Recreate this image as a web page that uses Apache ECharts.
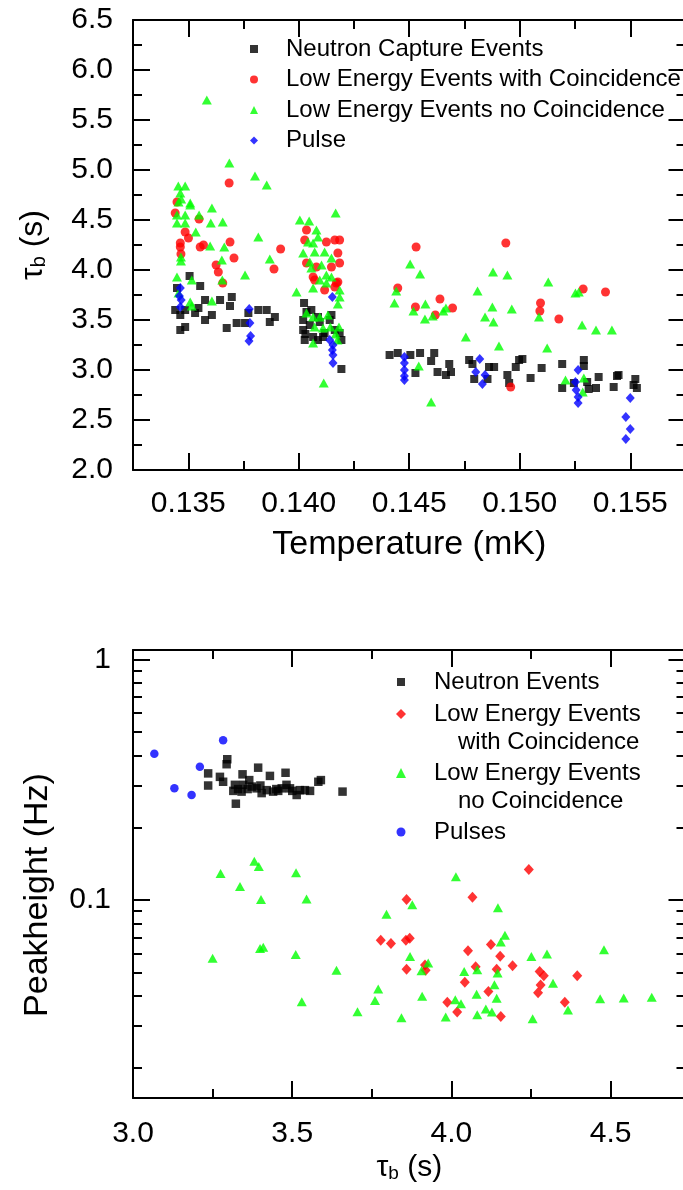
<!DOCTYPE html>
<html>
<head>
<meta charset="utf-8">
<script src="https://cdn.jsdelivr.net/npm/echarts@6/dist/echarts.min.js"></script>
<style>
html,body{margin:0;padding:0;background:#fff;overflow:hidden;}
#chart{width:683px;height:1190px;}
</style>
</head>
<body>
<div id="chart"></div>
<script>
// ---------- Top chart data: [Temperature (mK), tau_b (s)] ----------
const neutronCapture = [
  [0.13506,3.94],[0.13554,3.84],[0.13449,3.82],[0.13576,3.70],[0.13644,3.70],[0.13697,3.73],[0.13689,3.64],
  [0.13441,3.60],[0.13464,3.55],[0.13486,3.60],[0.13531,3.57],[0.13546,3.62],[0.13576,3.50],[0.13607,3.55],
  [0.13464,3.40],[0.13486,3.43],[0.13674,3.42],[0.13719,3.47],[0.13757,3.47],[0.13772,3.57],[0.13817,3.60],
  [0.13855,3.60],[0.13892,3.53],[0.13869,3.48],
  [0.14024,3.67],[0.14035,3.58],[0.14057,3.60],[0.14087,3.53],[0.14148,3.55],[0.14020,3.50],[0.14020,3.40],
  [0.14027,3.30],[0.14065,3.33],[0.14117,3.37],[0.14163,3.40],[0.14185,3.37],[0.14193,3.30],[0.14193,3.01],
  [0.14050,3.45],[0.14095,3.48],[0.14140,3.50],[0.14087,3.30],[0.14030,3.36],[0.14110,3.33],
  [0.14411,3.15],[0.14448,3.17],[0.14505,3.15],[0.14549,3.17],[0.14613,3.17],[0.14599,3.09],[0.14528,2.97],
  [0.14628,2.98],[0.14666,2.95],[0.14681,3.06],[0.14689,2.98],[0.14771,3.10],[0.14786,3.06],[0.14861,3.03],
  [0.14884,3.03],[0.14794,2.91],[0.14854,2.91],[0.14944,2.95],[0.14952,2.87],[0.14982,3.03],[0.14997,3.10],
  [0.15012,3.11],
  [0.15049,2.92],[0.15099,3.02],[0.15192,3.06],[0.15290,3.10],[0.15290,3.04],[0.15192,2.82],[0.15245,2.87],
  [0.15305,2.88],[0.15312,2.81],[0.15345,2.82],[0.15357,2.93],[0.15440,2.94],[0.15447,2.95],[0.15425,2.83],
  [0.15523,2.91],[0.15530,2.82],[0.15515,2.85]
];
const lowEnergyCoinc = [
  [0.13685,4.87],[0.13449,4.68],[0.13441,4.57],[0.13549,4.51],[0.13486,4.38],[0.13501,4.32],[0.13464,4.27],
  [0.13464,4.23],[0.13554,4.23],[0.13569,4.25],[0.13689,4.28],[0.13467,4.16],[0.13707,4.12],[0.13626,4.05],
  [0.13636,3.98],[0.13656,3.87],
  [0.14035,4.40],[0.14027,4.30],[0.14125,4.28],[0.14163,4.30],[0.14185,4.30],[0.13918,4.21],[0.13888,4.01],
  [0.14177,4.17],[0.14185,4.07],[0.14035,4.07],[0.14080,4.03],[0.14148,4.03],[0.14065,3.93],[0.14072,3.90],
  [0.14170,3.87],[0.14177,3.88],[0.14117,3.80],[0.14163,3.83],
  [0.14531,4.23],[0.14937,4.27],[0.14448,3.82],[0.14528,3.63],[0.14639,3.71],[0.14696,3.62],[0.14618,3.55],
  [0.14959,2.83],
  [0.15287,3.81],[0.15388,3.78],[0.15094,3.67],[0.15091,3.59],[0.15177,3.51]
];
const lowEnergyNoCoinc = [
  [0.13584,5.70],[0.13686,5.07],[0.13802,4.94],[0.13855,4.85],[0.13455,4.84],[0.13486,4.84],[0.13464,4.77],
  [0.13468,4.71],[0.13509,4.65],[0.13607,4.62],[0.13456,4.68],[0.13509,4.67],[0.13449,4.55],[0.13486,4.55],
  [0.13549,4.55],[0.13449,4.47],[0.13486,4.47],[0.13602,4.47],[0.13656,4.48],[0.13534,4.38],[0.13817,4.33],
  [0.13599,4.24],[0.13663,4.23],[0.13467,4.13],[0.13467,4.09],[0.13652,4.10],[0.13757,3.95],[0.13654,3.90],
  [0.13449,3.93],[0.13516,3.90],[0.13456,3.77],[0.13509,3.68],[0.13516,3.64],[0.13607,3.69],
  [0.14167,4.57],[0.14005,4.50],[0.14047,4.49],[0.14080,4.40],[0.14087,4.33],[0.14042,4.28],[0.14065,4.27],
  [0.14020,4.17],[0.14072,4.18],[0.14117,4.18],[0.14148,4.12],[0.13869,4.11],[0.14050,4.08],[0.14103,4.05],
  [0.14057,4.02],[0.14125,3.95],[0.14148,3.93],[0.14095,3.90],[0.14125,3.87],[0.14185,3.80],[0.13990,3.78],
  [0.14065,3.82],[0.14185,3.73],[0.14177,3.66],[0.14035,3.57],[0.14065,3.53],[0.14095,3.53],[0.14132,3.55],
  [0.14072,3.43],[0.14110,3.42],[0.14143,3.43],[0.14182,3.43],[0.14167,3.36],[0.14175,3.30],[0.14065,3.27],
  [0.14113,2.87],
  [0.14504,4.06],[0.14549,3.96],[0.14879,3.98],[0.14944,3.95],[0.14441,3.79],[0.14433,3.67],[0.14809,3.79],
  [0.14519,3.59],[0.14573,3.66],[0.14666,3.62],[0.14654,3.59],[0.14606,3.54],[0.14571,3.51],[0.14876,3.63],
  [0.14843,3.53],[0.14881,3.48],[0.14964,3.61],[0.14756,3.33],[0.14906,3.24],[0.14543,3.04],[0.14599,2.68],
  [0.15129,3.88],[0.15252,3.77],[0.15267,3.78],[0.15087,3.53],[0.15282,3.45],[0.15345,3.40],[0.15417,3.40],
  [0.15124,3.22],[0.15207,2.90],[0.15290,2.92],[0.15285,2.78]
];
const pulse = [
  [0.13464,3.82],[0.13460,3.74],[0.13468,3.70],[0.13464,3.63],[0.13776,3.61],[0.13779,3.47],[0.13782,3.34],
  [0.13775,3.29],
  [0.14152,3.73],[0.14140,3.30],[0.14155,3.25],[0.14152,3.20],[0.14155,3.15],[0.14155,3.07],
  [0.14478,3.13],[0.14478,3.07],[0.14478,3.00],[0.14478,2.94],[0.14478,2.90],[0.14819,3.11],[0.14801,2.98],
  [0.14843,2.95],[0.14831,2.86],
  [0.15264,3.00],[0.15252,2.88],[0.15255,2.80],[0.15264,2.73],[0.15264,2.67],[0.15500,2.72],[0.15480,2.53],
  [0.15500,2.41],[0.15480,2.31]
];

// ---------- Bottom chart data: [tau_b (s), Peakheight (Hz)] ----------
const neutronEvents = [
  [3.296,0.386],[3.294,0.368],[3.236,0.337],[3.236,0.300],[3.273,0.326],[3.283,0.311],[3.320,0.302],[3.315,0.285],
  [3.323,0.252],[3.344,0.334],[3.346,0.302],[3.341,0.283],[3.365,0.316],[3.373,0.297],[3.393,0.356],[3.388,0.292],
  [3.404,0.279],[3.420,0.287],[3.430,0.329],[3.440,0.283],[3.456,0.285],[3.467,0.292],[3.482,0.302],[3.479,0.339],
  [3.493,0.292],[3.514,0.274],[3.524,0.287],[3.540,0.287],[3.556,0.285],[3.582,0.311],[3.590,0.316],[3.658,0.283],
  [3.360,0.290],[3.400,0.300],[3.450,0.290],[3.500,0.285],[3.330,0.290]
];
const lowEnergyCoincB = [
  [4.243,0.134],[3.859,0.1007],[4.066,0.1029],[3.778,0.0681],[3.810,0.0660],[3.857,0.0681],[3.869,0.0694],
  [4.052,0.0615],[4.124,0.0653],[4.153,0.0584],[3.859,0.0516],[3.917,0.0537],[3.919,0.0511],[4.076,0.0528],
  [4.142,0.0515],[4.192,0.0533],[4.277,0.0505],[4.290,0.0484],[4.395,0.0484],[4.280,0.0443],[4.272,0.0411],
  [4.042,0.0455],[4.116,0.0416],[3.987,0.0376],[4.018,0.0342],[4.155,0.0328],[4.356,0.0376]
];
const lowEnergyNoCoincB = [
  [3.381,0.145],[3.395,0.138],[3.275,0.129],[3.512,0.130],[3.336,0.114],[3.402,0.1007],[3.545,0.101],
  [3.399,0.0629],[3.409,0.0636],[3.250,0.0573],[3.511,0.0594],[3.639,0.0510],[3.530,0.0377],[3.705,0.0343],
  [3.760,0.0382],[3.770,0.0427],
  [4.014,0.125],[3.877,0.0957],[3.796,0.0873],[4.146,0.0930],[4.168,0.0714],[4.155,0.0670],[4.479,0.0621],
  [3.870,0.0583],[4.251,0.0583],[4.300,0.0596],[3.927,0.0547],[3.906,0.0508],[4.040,0.0505],[4.081,0.0513],
  [4.145,0.0497],[4.319,0.0451],[3.908,0.0398],[4.135,0.0444],[4.079,0.0406],[4.142,0.0390],[4.012,0.0385],
  [4.030,0.0370],[4.467,0.0388],[4.541,0.0391],[4.366,0.0349],[4.108,0.0352],[4.127,0.0342],[3.843,0.0324],
  [3.982,0.0326],[4.081,0.0333],[4.255,0.0321],[4.629,0.0394]
];
const pulses = [
  [3.067,0.407],[3.283,0.463],[3.210,0.359],[3.130,0.292],[3.184,0.274]
];

// ---------- Tick values ----------
const tempMajorTicks = [0.135, 0.140, 0.145, 0.150, 0.155];
const tempMinorTicks = [0.1375, 0.1425, 0.1475, 0.1525];
const tauMajorTicks = [3.0, 3.5, 4.0, 4.5];
const tauMinorTicks = [3.25, 3.75, 4.25];
const peakMajorTicks = [0.1, 1];
const peakMinorTicks = [0.02,0.03,0.04,0.05,0.06,0.07,0.08,0.09,0.2,0.3,0.4,0.5,0.6,0.7,0.8,0.9];

// ---------- Names ----------
const topNames = ['Neutron Capture Events', 'Low Energy Events with Coincidence', 'Low Energy Events no Coincidence', 'Pulse'];
const botNames = ['Neutron Events', 'Low Energy Events\n\u2002\u2002with Coincidence', 'Low Energy Events\n\u2002\u2002no Coincidence', 'Pulses'];

const FONT = '"Liberation Sans", Arial, Helvetica, sans-serif';
const BLACK = '#000000', RED = '#ff0000', GREEN = '#00ff00', BLUE = '#0000ff';
const LINE = {color: BLACK, width: 2};

function xAx(gridIndex, min, max, position, ticks, len, opts) {
  return Object.assign({
    type: 'value', gridIndex, min, max, position,
    axisLine: {show: false, onZero: false, lineStyle: LINE},
    axisTick: {show: true, inside: true, length: len, lineStyle: LINE, customValues: ticks},
    axisLabel: {show: false},
    splitLine: {show: false}
  }, opts || {});
}
function yLog(gridIndex, position, ticks, len, opts) {
  return Object.assign({
    type: 'log', logBase: 10, gridIndex, min: 0.015, max: 1.1, position,
    axisLine: {show: false, onZero: false, lineStyle: LINE},
    axisTick: {show: true, inside: true, length: len, lineStyle: LINE, customValues: ticks},
    axisLabel: {show: false},
    splitLine: {show: false}
  }, opts || {});
}
const tauRich = function (size) {
  return {
    t: {fontSize: size, fontFamily: FONT, color: BLACK, lineHeight: size},
    s: {fontSize: Math.round(size * 0.62), fontFamily: FONT, color: BLACK, lineHeight: Math.round(size * 0.3), verticalAlign: 'bottom'}
  };
};
const legendText = {fontSize: 24, lineHeight: 28.5, color: BLACK, fontFamily: FONT};

const option = {
  animation: false,
  textStyle: {fontFamily: FONT, color: BLACK},
  grid: [
    {left: 133, top: 20, width: 552.5, height: 450, containLabel: false, outerBoundsMode: 'none'},
    {left: 133, top: 650, width: 552.5, height: 448, containLabel: false, outerBoundsMode: 'none'}
  ],
  xAxis: [
    xAx(0, 0.1325, 0.1575, 'bottom', tempMajorTicks, 17, {
      axisLine: {show: true, onZero: false, lineStyle: LINE},
      axisLabel: {show: true, customValues: tempMajorTicks, fontSize: 30, color: BLACK, fontFamily: FONT, margin: 19,
        formatter: v => Number(v).toFixed(3)},
      name: 'Temperature (mK)', nameLocation: 'middle', nameGap: 58,
      nameTextStyle: {fontSize: 34, color: BLACK, fontFamily: FONT}
    }),
    xAx(0, 0.1325, 0.1575, 'bottom', tempMinorTicks, 9),
    xAx(0, 0.1325, 0.1575, 'top', tempMajorTicks, 17, {axisLine: {show: true, onZero: false, lineStyle: LINE}}),
    xAx(0, 0.1325, 0.1575, 'top', tempMinorTicks, 9),
    xAx(1, 3.0, 4.735, 'bottom', tauMajorTicks, 17, {
      axisLine: {show: true, onZero: false, lineStyle: LINE},
      axisLabel: {show: true, customValues: tauMajorTicks, fontSize: 30, color: BLACK, fontFamily: FONT, margin: 21,
        formatter: v => Number(v).toFixed(1)},
      name: '{t|τ}{s|b}{t| (s)}', nameLocation: 'middle', nameGap: 55,
      nameTextStyle: {rich: tauRich(30)}
    }),
    xAx(1, 3.0, 4.735, 'bottom', tauMinorTicks, 9),
    xAx(1, 3.0, 4.735, 'top', tauMajorTicks, 17, {axisLine: {show: true, onZero: false, lineStyle: LINE}}),
    xAx(1, 3.0, 4.735, 'top', tauMinorTicks, 9)
  ],
  yAxis: [
    {
      type: 'value', gridIndex: 0, min: 2.0, max: 6.5, interval: 0.5, position: 'left',
      axisLine: {show: true, onZero: false, lineStyle: LINE},
      axisTick: {show: true, inside: true, length: 17, lineStyle: LINE},
      minorTick: {show: true, splitNumber: 2, length: 9, lineStyle: LINE},
      axisLabel: {fontSize: 30, color: BLACK, fontFamily: FONT, margin: 20, formatter: v => Number(v).toFixed(1)},
      splitLine: {show: false},
      name: '{t|τ}{s|b}{t| (s)}', nameLocation: 'middle', nameGap: 84, nameRotate: 90,
      nameTextStyle: {rich: tauRich(32)}
    },
    {
      type: 'value', gridIndex: 0, min: 2.0, max: 6.5, interval: 0.5, position: 'right',
      axisLine: {show: true, onZero: false, lineStyle: LINE},
      axisTick: {show: true, inside: true, length: 17, lineStyle: LINE},
      minorTick: {show: true, splitNumber: 2, length: 9, lineStyle: LINE},
      axisLabel: {show: false},
      splitLine: {show: false}
    },
    yLog(1, 'left', peakMajorTicks, 17, {
      axisLine: {show: true, onZero: false, lineStyle: LINE},
      axisLabel: {show: true, customValues: peakMajorTicks, fontSize: 30, color: BLACK, fontFamily: FONT, margin: 22,
        formatter: v => String(parseFloat(Number(v).toPrecision(2)))},
      name: 'Peakheight (Hz)', nameLocation: 'middle', nameGap: 78, nameRotate: 90,
      nameTextStyle: {fontSize: 34, color: BLACK, fontFamily: FONT, padding: [0, 42, 0, 0]}
    }),
    yLog(1, 'left', peakMinorTicks, 9),
    yLog(1, 'right', peakMajorTicks, 17, {axisLine: {show: true, onZero: false, lineStyle: LINE}}),
    yLog(1, 'right', peakMinorTicks, 9)
  ],
  legend: [
    {
      orient: 'vertical', left: 250, top: 35, padding: 0, itemGap: 2.5, itemWidth: 8, itemHeight: 8,
      selectedMode: false,
      textStyle: {fontSize: 24, lineHeight: 28, color: BLACK, fontFamily: FONT, padding: [0, 0, 0, 23]},
      data: [
        {name: topNames[0], icon: 'rect'},
        {name: topNames[1], icon: 'circle'},
        {name: topNames[2], icon: 'triangle'},
        {name: topNames[3], icon: 'diamond'}
      ]
    },
    {
      orient: 'vertical', left: 397, top: 667.75, padding: 0, itemWidth: 8, itemHeight: 8, selectedMode: false,
      textStyle: Object.assign({padding: [0, 0, 0, 24]}, legendText),
      data: [{name: botNames[0], icon: 'rect'}]
    },
    {
      orient: 'vertical', left: 396, top: 671.25, padding: 0, itemWidth: 10, itemHeight: 10, selectedMode: false,
      textStyle: Object.assign({padding: [0, 0, 0, 23]}, legendText),
      formatter: name => ' \n' + name,
      data: [{name: botNames[1], icon: 'diamond'}]
    },
    {
      orient: 'vertical', left: 396, top: 730.25, padding: 0, itemWidth: 10, itemHeight: 10, selectedMode: false,
      textStyle: Object.assign({padding: [0, 0, 0, 23]}, legendText),
      formatter: name => ' \n' + name,
      data: [{name: botNames[2], icon: 'triangle'}]
    },
    {
      orient: 'vertical', left: 396.5, top: 817.75, padding: 0, itemWidth: 9, itemHeight: 9, selectedMode: false,
      textStyle: Object.assign({padding: [0, 0, 0, 23.5]}, legendText),
      data: [{name: botNames[3], icon: 'circle'}]
    }
  ],
  series: [
    {type: 'scatter', name: topNames[0], xAxisIndex: 0, yAxisIndex: 0, data: neutronCapture,
      symbol: 'rect', symbolSize: 8, itemStyle: {color: BLACK}, silent: true},
    {type: 'scatter', name: topNames[1], xAxisIndex: 0, yAxisIndex: 0, data: lowEnergyCoinc,
      symbol: 'circle', symbolSize: 9, itemStyle: {color: RED}, silent: true},
    {type: 'scatter', name: topNames[2], xAxisIndex: 0, yAxisIndex: 0, data: lowEnergyNoCoinc,
      symbol: 'triangle', symbolSize: [10, 9], itemStyle: {color: GREEN}, silent: true},
    {type: 'scatter', name: topNames[3], xAxisIndex: 0, yAxisIndex: 0, data: pulse,
      symbol: 'diamond', symbolSize: [9, 10], itemStyle: {color: BLUE}, silent: true},
    {type: 'scatter', name: botNames[0], xAxisIndex: 4, yAxisIndex: 2, data: neutronEvents,
      symbol: 'rect', symbolSize: 8.5, itemStyle: {color: BLACK}, silent: true},
    {type: 'scatter', name: botNames[1], xAxisIndex: 4, yAxisIndex: 2, data: lowEnergyCoincB,
      symbol: 'diamond', symbolSize: [10, 11], itemStyle: {color: RED}, silent: true},
    {type: 'scatter', name: botNames[2], xAxisIndex: 4, yAxisIndex: 2, data: lowEnergyNoCoincB,
      symbol: 'triangle', symbolSize: [10, 9], itemStyle: {color: GREEN}, silent: true},
    {type: 'scatter', name: botNames[3], xAxisIndex: 4, yAxisIndex: 2, data: pulses,
      symbol: 'circle', symbolSize: 8.5, itemStyle: {color: BLUE}, silent: true}
  ]
};

const chart = echarts.init(document.getElementById('chart'), null, {renderer: 'canvas'});
chart.setOption(option);
</script>
</body>
</html>
